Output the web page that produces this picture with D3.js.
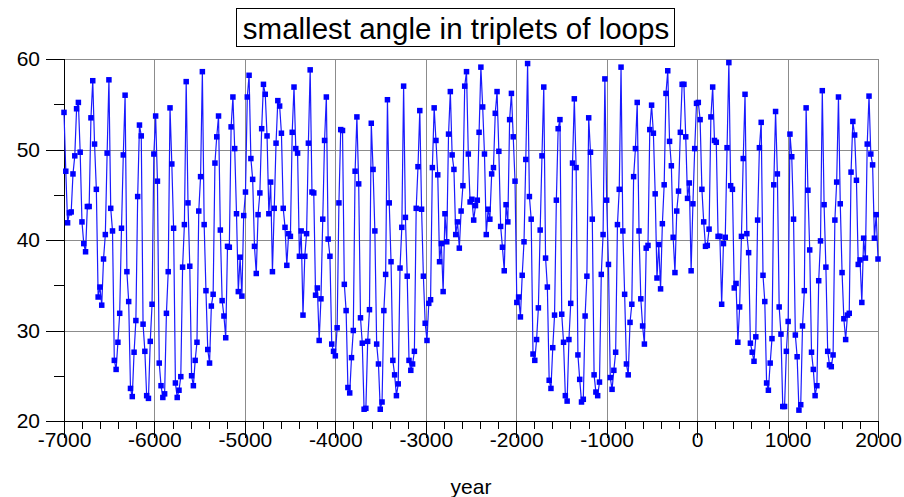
<!DOCTYPE html>
<meta charset='utf-8'>
<head>
    <title>smallest angle in triplets of loops</title>
    <script src='https://cdn.jsdelivr.net/npm/d3@7'></script>
</head>

<style>
    body {
        margin: 0;
        background: #fff;
    }

    svg {
        display: block;
        font-family: 'Liberation Sans', Arial, sans-serif;
    }

    .grid line {
        stroke: #8c8c8c;
        stroke-width: 1px;
        shape-rendering: crispEdges;
    }

    .axis path, .axis line {
        stroke: #000;
        shape-rendering: crispEdges;
    }

    .axis text {
        font-size: 21px;
        fill: #000;
    }
</style>

<svg></svg>

<script>
    var vWidth = 904;
    var vHeight = 497;

    // first and last year of the series (points are evenly spaced between them)
    var firstYear = -7000;
    var lastYear = 2000;

    // smallest angle (degrees), in time order
    var anglesBlock1 = [54.1, 47.6, 41.9, 43.0, 43.1, 47.3, 49.3, 54.5, 55.2, 49.7,
        42.0, 39.6, 38.7, 43.7, 43.7, 53.5, 57.6, 50.6, 45.6, 33.7,
        34.8, 32.8, 37.9, 40.6, 49.6, 57.7, 43.5, 41.0, 26.7, 25.7,
        28.7, 31.9, 41.3, 49.4, 56.0, 36.5, 33.2, 23.6, 22.7, 27.6,
        31.1, 44.8, 52.7, 51.5, 30.7, 27.7, 22.8, 22.5, 28.8, 32.9,
        49.5, 53.7];
    var anglesBlock2 = [46.5, 26.4, 23.9, 22.6, 23.0, 31.9, 36.5, 54.6, 48.4, 41.3,
        24.2, 22.6, 23.4, 24.9, 37.0, 41.7, 57.5, 44.1, 37.1, 25.0,
        23.9, 26.7, 28.7, 43.2, 47.0, 58.6, 41.7, 34.4, 27.9, 26.4,
        32.7, 34.0, 48.5, 51.4, 53.7, 41.1, 33.3, 31.6, 29.2, 39.3,
        39.2, 52.5, 55.8, 50.1, 42.9, 34.3, 38.1, 33.8, 42.7, 45.3];
    var anglesBlock3 = [55.8, 58.2, 49.0, 46.7, 39.3, 36.3, 42.8, 45.2, 52.3, 57.2,
        56.1, 51.5, 42.9, 46.4, 36.5, 43.5, 50.7, 55.4, 54.8, 51.8,
        43.5, 41.4, 37.2, 40.7, 40.4, 51.9, 56.9, 50.1, 49.6, 38.2,
        41.0, 31.7, 38.2, 40.7, 50.7, 58.8, 45.3, 45.2, 33.9, 34.7,
        28.9, 33.5, 42.3, 51.0, 55.8, 40.1, 38.2, 28.5, 27.7, 27.2,
        30.3];
    var anglesBlock4 = [44.1, 52.2, 52.1, 35.1, 32.2, 23.7, 23.1, 27.0, 30.0, 47.6,
        53.6, 46.2, 31.4, 28.6, 21.3, 21.4, 28.8, 32.3, 52.9, 47.8,
        41.0, 28.5, 26.3, 21.3, 22.1, 32.2, 36.2, 55.5, 44.1, 37.6,
        26.7, 25.1, 22.8, 24.1, 36.9, 41.4, 57.0, 42.5, 36.0, 26.7,
        25.6, 26.3, 27.7, 43.5, 48.1, 54.3, 43.4, 36.0, 30.8, 28.9,
        33.0];
    var anglesBlock5 = [33.4, 48.0, 54.6, 51.0, 47.2, 37.6, 39.6, 34.3, 42.9, 39.8,
        51.7, 56.4, 49.4, 47.8, 40.6, 42.0, 39.1, 43.2, 46.0, 57.0,
        58.6, 49.5, 44.2, 44.5, 42.2, 43.8, 44.4, 51.9, 59.1, 54.7,
        49.5, 40.6, 43.4, 42.3, 47.3, 48.0, 54.0, 56.4, 49.8, 41.5,
        39.2, 36.6, 43.9, 42.0, 53.3, 56.2, 51.4, 46.5, 33.1, 33.7];
    var anglesBlock6 = [31.5, 36.1, 39.8, 48.9, 59.5, 44.8, 42.3, 27.4, 26.7, 29.0,
        32.5, 41.1, 49.3, 56.9, 38.0, 34.8, 24.5, 23.6, 28.1, 31.7,
        44.4, 52.3, 53.3, 31.8, 28.7, 22.8, 22.2, 29.0, 33.0, 48.5,
        55.6, 48.0, 27.3, 24.6, 22.1, 22.4, 31.6, 36.0, 53.5, 49.7,
        42.3, 25.1, 23.2, 22.8, 24.3, 36.2, 40.6, 57.8, 44.4, 37.3,
        24.8];
    var anglesBlock7 = [23.5, 25.6, 27.6, 41.7, 45.6, 59.1, 41.0, 34.0, 26.3, 25.1,
        30.9, 32.9, 47.0, 50.1, 55.2, 41.0, 33.5, 30.5, 28.5, 39.1,
        39.4, 52.2, 54.9, 51.8, 45.1, 35.8, 39.5, 34.6, 41.8, 46.1,
        56.2, 58.7, 50.9, 48.2, 40.3, 36.4, 43.2, 45.4, 51.9, 57.2,
        57.2, 51.4, 44.6, 46.3, 36.6, 44.0, 50.1, 55.1, 55.2, 53.3];
    var anglesBlock8 = [45.6, 42.0, 39.3, 39.4, 41.2, 53.6, 56.9, 51.0, 50.8, 40.4,
        40.4, 32.9, 39.6, 40.3, 50.2, 59.6, 46.0, 45.6, 34.7, 35.2,
        28.7, 32.6, 40.4, 49.0, 56.1, 40.7, 38.6, 28.6, 27.6, 26.6,
        29.3, 42.2, 50.2, 53.0, 36.1, 33.2, 24.2, 23.4, 26.4, 29.1,
        46.1, 54.2, 47.3, 32.6, 29.6, 21.6, 21.6, 27.7, 31.0, 51.7];
    var anglesBlock9 = [49.2, 42.3, 29.5, 27.1, 21.2, 21.8, 30.5, 34.4, 54.6, 45.5,
        38.9, 27.6, 25.7, 22.8, 23.9, 35.5, 39.9, 56.5, 43.9, 37.0,
        27.7, 26.2, 26.0, 27.3, 42.2, 46.4, 55.8, 44.0, 36.4, 31.3,
        29.0, 31.7, 31.9, 47.5, 53.1, 51.6, 46.6, 37.3, 37.8, 33.1,
        40.2, 38.0, 50.6, 55.9, 49.5, 48.3, 40.2, 42.8, 37.9];

    var yTickValues = [20, 30, 40, 50, 60];
    var xTickValues = [-7000, -6000, -5000, -4000, -3000, -2000, -1000, 0, 1000, 2000];

    var angles = [].concat(anglesBlock1, anglesBlock2, anglesBlock3, anglesBlock4,
        anglesBlock5, anglesBlock6, anglesBlock7, anglesBlock8, anglesBlock9);
    var vStep = (lastYear - firstYear) / (angles.length - 1);
    var vData = angles.map(function (a, i) { return {year: firstYear + i * vStep, angle: a}; });

    // Plot area (note: "top" is taken by window.top, so prefix everything)
    var pLeft = 64, pRight = 878, pTop = 59, pBottom = 421;

    var svg = d3.select('svg').attr('width', vWidth).attr('height', vHeight);

    var x = d3.scaleLinear().domain([firstYear, lastYear]).range([pLeft, pRight]);
    var y = d3.scaleLinear().domain([20, 60]).range([pBottom, pTop]);

    // Grid
    var grid = svg.append('g').attr('class', 'grid');
    grid.selectAll('line.v').data(xTickValues.slice(1)).enter().append('line')
        .attr('class', 'v')
        .attr('x1', function (d) { return Math.round(x(d)) + 0.5; })
        .attr('x2', function (d) { return Math.round(x(d)) + 0.5; })
        .attr('y1', pTop).attr('y2', pBottom);
    grid.selectAll('line.h').data(yTickValues.slice(1)).enter().append('line')
        .attr('class', 'h')
        .attr('x1', pLeft).attr('x2', pRight)
        .attr('y1', function (d) { return Math.round(y(d)) + 0.5; })
        .attr('y2', function (d) { return Math.round(y(d)) + 0.5; });

    // Axes
    var xAxis = svg.append('g').attr('class', 'axis')
        .attr('transform', 'translate(0,' + pBottom + ')')
        .call(d3.axisBottom(x).tickValues(d3.range(firstYear, lastYear + 1, 200))
            .tickSize(8).tickPadding(6)
            .tickFormat(function (d) { return d % 1000 === 0 ? String(d) : ''; }));
    xAxis.select('.domain').remove();
    xAxis.selectAll('.tick line')
        .attr('y2', function (d) { return d % 1000 === 0 ? 17 : 8; });
    xAxis.selectAll('.tick text').attr('y', 11);

    var yAxis = svg.append('g').attr('class', 'axis')
        .attr('transform', 'translate(' + pLeft + ',0)')
        .call(d3.axisLeft(y).tickValues(d3.range(20, 61, 5))
            .tickSize(18).tickPadding(6)
            .tickFormat(function (d) { return d % 10 === 0 ? String(d) : ''; }));
    yAxis.select('.domain').remove();
    yAxis.selectAll('.tick line').attr('x2', function (d) { return d % 10 === 0 ? -18 : -10; });
    yAxis.selectAll('.tick text').attr('x', -24);

    svg.append('line').attr('x1', pLeft + 0.5).attr('x2', pLeft + 0.5)
        .attr('y1', pTop).attr('y2', pBottom).attr('stroke', '#000');
    svg.append('line').attr('x1', pLeft).attr('x2', pRight + 1)
        .attr('y1', pBottom + 0.5).attr('y2', pBottom + 0.5).attr('stroke', '#000');

    // Series
    var vLine = d3.line()
        .x(function (d) { return x(d.year); })
        .y(function (d) { return y(d.angle); });

    svg.append('path').datum(vData)
        .attr('d', vLine)
        .attr('fill', 'none')
        .attr('stroke', '#1a1aff')
        .attr('stroke-width', 1.2);

    svg.selectAll('rect.pt').data(vData).enter().append('rect')
        .attr('class', 'pt')
        .attr('x', function (d) { return x(d.year) - 2.75; })
        .attr('y', function (d) { return y(d.angle) - 2.75; })
        .attr('width', 5.5).attr('height', 5.5)
        .attr('fill', '#0000ff');

    // Axis title
    svg.append('text')
        .attr('x', (pLeft + pRight) / 2).attr('y', 494)
        .attr('text-anchor', 'middle')
        .style('font-size', '21px')
        .text('year');

    // Boxed chart title
    var titleBox = svg.append('rect');
    var title = svg.append('text')
        .attr('x', 456).attr('y', 39)
        .attr('text-anchor', 'middle')
        .style('font-size', '29.5px')
        .text('smallest angle in triplets of loops');
    var tb = title.node().getBBox();
    titleBox
        .attr('x', Math.round(tb.x) - 6.5).attr('y', 8.5)
        .attr('width', Math.round(tb.width) + 12).attr('height', 38)
        .attr('fill', '#fff').attr('stroke', '#000');
</script>
